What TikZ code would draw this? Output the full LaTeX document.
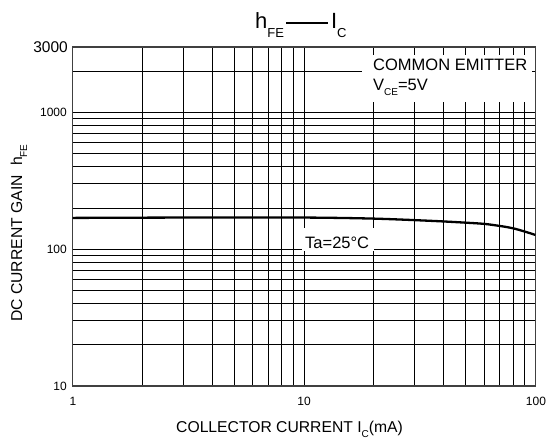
\documentclass[tikz,border=0pt]{standalone}
\usepackage{fontspec}
\setmainfont{Liberation Sans}
\newcommand{\fsz}[1]{\fontsize{#1}{#1}\selectfont}
\newcommand{\lowsub}[2]{\raisebox{-#1}{\fsz{10}#2}}
\begin{document}
\begin{tikzpicture}[x=1pt,y=-1pt,
  declare function={px(\i)=72.7+231.3*log10(\i); py(\h)=386-136.9*log10(\h/10);},
  gridline/.style={line width=0.75pt,black},
  border/.style={line width=1.1pt,black!75},
  curve/.style={line width=2.3pt,black},
  ticklab/.style={inner sep=0pt,font=\fsz{12}},
  biglab/.style={inner sep=0pt,font=\fsz{15.7}},
  annlab/.style={inner sep=0pt,font=\fsz{16.5}}]
\useasboundingbox (0,0) rectangle (548,442);
% grid
\foreach \n in {2,3,...,10,20,30,...,90}
  \draw[gridline] ({px(\n)},47) -- ({px(\n)},386);
\foreach \h in {20,30,...,100,200,300,...,1000,2000}
  \draw[gridline] (72.7,{py(\h)}) -- (535.3,{py(\h)});
% label masks
\fill[white] (362,55) rectangle (532,102);
\fill[white] (302,228) rectangle (373.5,251);
% frame
\draw[border] (72.7,47) rectangle (535.3,386);
% curve
\draw[curve] plot[smooth,tension=0.5] coordinates {
  ({px(1)},{py(169)}) ({px(3)},{py(170)}) ({px(10)},{py(170)})
  ({px(20)},{py(167)}) ({px(35)},{py(161)}) ({px(50)},{py(156)})
  ({px(62)},{py(152)}) ({px(80)},{py(142)}) ({px(100)},{py(127)})};
% y tick labels
\node[inner sep=0pt,font=\fsz{15.5},anchor=east] (y3000) at (68,47) {3000};
\node[ticklab,anchor=east] (y1000) at (67,112) {1000};
\node[ticklab,anchor=east] (y100) at (67,249) {100};
\node[ticklab,anchor=east] (y10) at (67,386) {10};
% x tick labels
\node[ticklab] (x1) at (73,401) {1};
\node[ticklab] (x10) at (304,401) {10};
\node[ticklab] (x100) at (536,401) {100};
% title
\node[inner sep=0pt,anchor=base west] (title) at (255,28)
  {\fsz{22}h\lowsub{9.3pt}{\fsz{13}FE}\hspace{2pt}\rule[4.5pt]{42pt}{1.3pt}\hspace{3pt}I\lowsub{9.3pt}{\fsz{13}C}};
% axis labels
\node[biglab,anchor=base west] (xlab) at (176,432)
  {COLLECTOR CURRENT I\lowsub{5pt}{C}(mA)};
\node[biglab,anchor=base west,rotate=90] (ylab) at (22,322)
  {DC CURRENT GAIN\hspace{0.6em}h\lowsub{5pt}{FE}};
% annotations
\node[annlab,anchor=base west] (ce1) at (373,70.7) {COMMON EMITTER};
\node[annlab,anchor=base west] (ce2) at (373,90) {V\lowsub{5pt}{CE}=5V};
\node[annlab,anchor=base west] (ta) at (305,248.3) {Ta=25°C};
\end{tikzpicture}
\end{document}
